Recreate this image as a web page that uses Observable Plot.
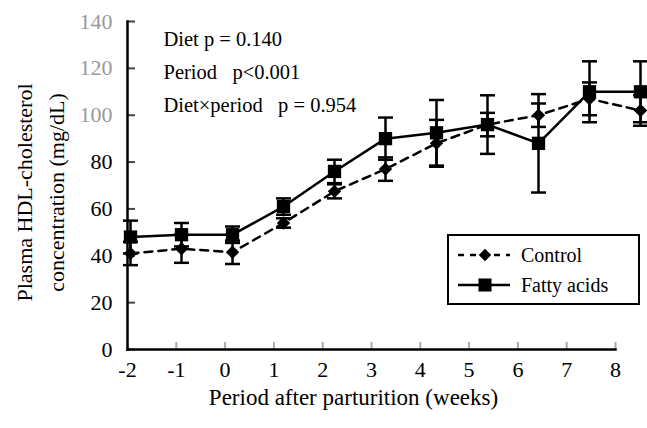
<!DOCTYPE html>
<html>
<head>
<meta charset="utf-8">
<script src="https://cdn.jsdelivr.net/npm/d3@7"></script>
<script src="https://cdn.jsdelivr.net/npm/@observablehq/plot@0.6"></script>
<style>
  html, body { margin: 0; padding: 0; background: #fff; }
  #wrap { position: relative; width: 647px; height: 428px; font-family: "Liberation Serif", "Times New Roman", serif; }
  #wrap svg { position: absolute; left: 0; top: 0; background: transparent; }
  #wrap svg text { white-space: pre; }
  #legend { position: absolute; left: 447px; top: 234px; width: 189px; height: 67px; border: 2px solid #000; background: #fff; font-size: 20px; }
  #legend .row { position: absolute; left: 0; height: 30px; display: flex; align-items: center; }
  #legend svg { position: static; }
</style>
</head>
<body>
<div id="wrap"></div>
<script>
// ---- data ----
const weeks = [-2, -1, 0, 1, 2, 3, 4, 5, 6, 7, 8];
const controlMean = [41, 43, 41.5, 54, 67.5, 77, 88, 96, 100, 107, 102];
const controlSE   = [5, 6, 5, 2, 3, 5, 10, 5, 5, 7, 6.5];
const fattyMean   = [48, 49, 49, 61, 76, 90, 92.5, 96, 88, 110, 110];
const fattySE     = [7, 5, 3.5, 3.5, 5, 9, 14, 12.5, 21, 13, 13];
const yTicksDark  = [0, 20, 40, 60, 80];
const yTicksLight = [100, 120, 140];
const seriesNames = ["Control", "Fatty acids"];
const xTitle = "Period after parturition (weeks)";
const yTitle = "Plasma HDL-cholesterol\nconcentration (mg/dL)";
const notes = ["Diet p = 0.140", "Period   p<0.001", "Diet\u00d7period   p = 0.954"];

const control = weeks.map((w, i) => ({week: w, mean: controlMean[i], se: controlSE[i]}));
const fatty   = weeks.map((w, i) => ({week: w, mean: fattyMean[i], se: fattySE[i]}));

const W = 647, H = 428;
const font = '"Liberation Serif", "Times New Roman", serif';
const cap = { draw(ctx, size) { ctx.moveTo(-7.5, 0); ctx.lineTo(7.5, 0); } };

// ---- axes layer ----
const axes = Plot.plot({
  width: W, height: H,
  marginLeft: 127, marginRight: 32, marginTop: 21, marginBottom: 79,
  style: { fontFamily: font, background: "transparent" },
  x: { domain: [-2, 8] },
  y: { domain: [0, 140] },
  marks: [
    Plot.axisX({ ticks: weeks, tickSize: -7, text: null, stroke: "#aaa", strokeWidth: 2 }),
    Plot.axisX({ ticks: weeks, tickSize: 0, tickPadding: 12, tickFormat: d => String(d), fontSize: 22, fill: "#000", label: null }),
    Plot.axisY({ ticks: yTicksDark.concat(yTicksLight), tickSize: -8, text: null, stroke: "#444", strokeWidth: 2 }),
    Plot.axisY({ ticks: yTicksDark, tickSize: 0, tickPadding: 15, fontSize: 22, fill: "#000", label: null }),
    Plot.axisY({ ticks: yTicksLight, tickSize: 0, tickPadding: 15, fontSize: 22, fill: "#999", label: null }),
    Plot.frame({ anchor: "left", stroke: "#000", strokeWidth: 2.5 }),
    Plot.frame({ anchor: "bottom", stroke: "#000", strokeWidth: 2.5 }),
    Plot.text([xTitle], { frameAnchor: "bottom", dx: -18, dy: 48, fontSize: 23, fill: "#000", lineAnchor: "middle" }),
    Plot.text([yTitle], { frameAnchor: "left", textAnchor: "middle", dx: -90, dy: 7, rotate: -90, fontSize: 22, lineHeight: 1.45, fill: "#000", lineAnchor: "middle" }),
    ...notes.map((n, i) => Plot.text([n], { frameAnchor: "top-left", textAnchor: "start", lineAnchor: "middle", dx: 36, dy: 18 + 33 * i, fontSize: 20.5, fill: "#000" }))
  ]
});

// ---- data layer ----
const dataLayer = Plot.plot({
  width: W, height: H,
  marginLeft: 130, marginRight: 7, marginTop: 21, marginBottom: 79,
  style: { fontFamily: font, background: "transparent" },
  x: { domain: [-2, 8], axis: null },
  y: { domain: [0, 140], axis: null },
  marks: [
    Plot.ruleX(control, { x: "week", y1: d => d.mean - d.se, y2: d => d.mean + d.se, stroke: "#000", strokeWidth: 2.5 }),
    Plot.dot(control, { x: "week", y: d => d.mean + d.se, symbol: cap, stroke: "#000", strokeWidth: 2.5, fill: "none" }),
    Plot.dot(control, { x: "week", y: d => d.mean - d.se, symbol: cap, stroke: "#000", strokeWidth: 2.5, fill: "none" }),
    Plot.ruleX(fatty, { x: "week", y1: d => d.mean - d.se, y2: d => d.mean + d.se, stroke: "#000", strokeWidth: 2.5 }),
    Plot.dot(fatty, { x: "week", y: d => d.mean + d.se, symbol: cap, stroke: "#000", strokeWidth: 2.5, fill: "none" }),
    Plot.dot(fatty, { x: "week", y: d => d.mean - d.se, symbol: cap, stroke: "#000", strokeWidth: 2.5, fill: "none" }),
    Plot.line(control, { x: "week", y: "mean", stroke: "#000", strokeWidth: 2.5, strokeDasharray: "8,6" }),
    Plot.line(fatty, { x: "week", y: "mean", stroke: "#000", strokeWidth: 2.5 }),
    Plot.dot(control, { x: "week", y: "mean", symbol: "diamond2", r: 6, fill: "#000" }),
    Plot.dot(fatty, { x: "week", y: "mean", symbol: "square", r: 7.5, fill: "#000" })
  ]
});

const wrap = document.getElementById("wrap");
wrap.appendChild(axes);
wrap.appendChild(dataLayer);

// ---- legend ----
const legend = document.createElement("div");
legend.id = "legend";
seriesNames.forEach((name, i) => {
  const row = document.createElement("div");
  row.className = "row";
  row.style.top = (4 + i * 30) + "px";
  const sw = d3.create("svg").attr("width", 72).attr("height", 30);
  sw.append("line").attr("x1", 9).attr("x2", 61).attr("y1", 15).attr("y2", 15)
    .attr("stroke", "#000").attr("stroke-width", 2.5)
    .attr("stroke-dasharray", i === 0 ? "6,6" : null);
  sw.append("path").attr("transform", "translate(36,15)")
    .attr("d", i === 0 ? d3.symbol(d3.symbolDiamond2, 100)() : d3.symbol(d3.symbolSquare, 170)())
    .attr("fill", "#000");
  row.appendChild(sw.node());
  const lab = document.createElement("span");
  lab.textContent = name;
  row.appendChild(lab);
  legend.appendChild(row);
});
wrap.appendChild(legend);
</script>
</body>
</html>
